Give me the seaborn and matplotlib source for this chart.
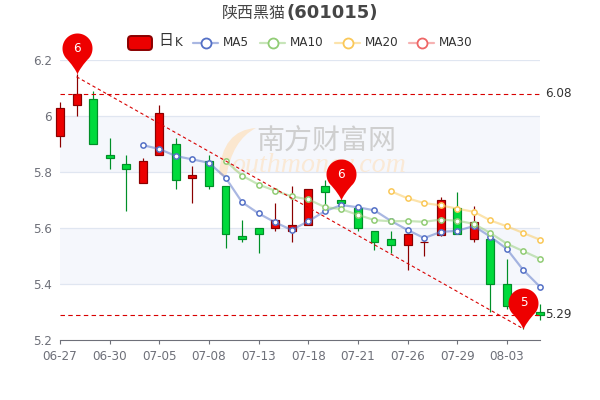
import numpy as np
import pandas as pd
import matplotlib
matplotlib.use('Agg')
import matplotlib.pyplot as plt
import seaborn as sns
from matplotlib.lines import Line2D
from matplotlib.patches import FancyBboxPatch, PathPatch
from matplotlib.path import Path
from matplotlib.transforms import Affine2D

dates = ['06-27', '06-28', '06-29', '06-30', '07-01', '07-04', '07-05', '07-06', '07-07', '07-08',
         '07-11', '07-12', '07-13', '07-14', '07-15', '07-18', '07-19', '07-20', '07-21', '07-22',
         '07-25', '07-26', '07-27', '07-28', '07-29', '08-01', '08-02', '08-03', '08-04', '08-05']
opens = [5.93, 6.04, 6.06, 5.86, 5.83, 5.76, 5.86, 5.90, 5.78, 5.84,
         5.75, 5.57, 5.60, 5.60, 5.59, 5.61, 5.75, 5.70, 5.67, 5.59,
         5.56, 5.54, 5.55, 5.575, 5.67, 5.56, 5.56, 5.40, 5.32, 5.30]
closes = [6.03, 6.08, 5.90, 5.85, 5.81, 5.84, 6.01, 5.77, 5.79, 5.75,
          5.58, 5.56, 5.58, 5.63, 5.61, 5.74, 5.73, 5.69, 5.60, 5.55,
          5.54, 5.58, 5.55, 5.70, 5.58, 5.62, 5.40, 5.32, 5.28, 5.29]
highs = [6.05, 6.15, 6.09, 5.92, 5.86, 5.85, 6.04, 5.92, 5.82, 5.86,
         5.75, 5.63, 5.60, 5.69, 5.75, 5.74, 5.77, 5.70, 5.68, 5.59,
         5.59, 5.58, 5.56, 5.71, 5.73, 5.68, 5.56, 5.49, 5.33, 5.33]
lows = [5.89, 6.00, 5.90, 5.81, 5.66, 5.76, 5.86, 5.74, 5.69, 5.74,
        5.53, 5.55, 5.51, 5.59, 5.55, 5.61, 5.68, 5.69, 5.59, 5.52,
        5.51, 5.45, 5.50, 5.57, 5.58, 5.55, 5.30, 5.31, 5.24, 5.27]

ma5 = [None] * 5 + [5.896, 5.882, 5.857, 5.845, 5.833, 5.78, 5.692, 5.652, 5.62, 5.593, 5.624, 5.66,
                    5.682, 5.674, 5.663, 5.625, 5.593, 5.564, 5.586, 5.59, 5.607, 5.569, 5.525, 5.449, 5.39]
ma10 = [None] * 10 + [5.84, 5.787, 5.755, 5.733, 5.713, 5.702, 5.675, 5.667, 5.647, 5.628,
                      5.624, 5.625, 5.622, 5.63, 5.626, 5.615, 5.582, 5.544, 5.517, 5.49]
ma20 = [None] * 20 + [5.731, 5.706, 5.689, 5.681, 5.669, 5.658, 5.627, 5.606, 5.582, 5.558]

pin_days = [1, 17, 28]
pin_prices = [6.15, 5.70, 5.24]
pin_labels = ['6', '6', '5']
trend_days = [1, 28]
trend_prices = [6.14, 5.24]
level_hi = 6.08
level_lo = 5.29

RED, RED_DARK = '#ec0000', '#8a0000'
GREEN, GREEN_DARK = '#00da3c', '#008f28'
PX = 0.72  # points per pixel at dpi 100

sns.set_theme(style='white')
plt.rcParams['font.family'] = ['DejaVu Sans', 'Noto Sans CJK SC']

fig = plt.figure(figsize=(6, 4), dpi=100)
ax = fig.add_axes([60 / 600, 60 / 400, 480 / 600, 280 / 400])
# pixel coordinates of the 600x400 picture, y going down
pix = Affine2D().scale(1 / 600, -1 / 400).translate(0, 1) + fig.transFigure

df = pd.DataFrame({'day': range(len(dates)), 'open': opens, 'close': closes, 'high': highs, 'low': lows})
df['up'] = df['close'] >= df['open']

# background bands and grid
for lo, hi in [(5.8, 6.0), (5.4, 5.6)]:
    ax.axhspan(lo, hi, color='#f5f7fc', lw=0, zorder=0)
for v in np.arange(5.4, 6.3, 0.2):
    ax.axhline(v, color='#e0e6f1', lw=0.9, zorder=1)

# watermark
swoosh = Path([(256, 128), (222, 130), (219, 174), (226, 178), (232, 140), (256, 128)],
              [Path.MOVETO, Path.CURVE3, Path.CURVE3, Path.LINETO, Path.CURVE3, Path.CURVE3])
ax.add_patch(PathPatch(swoosh, transform=pix, fc='#fbe7cf', ec='none', zorder=1.1, clip_on=False))
ax.text(326, 141, '南方财富网', transform=pix, family='Noto Sans CJK SC', weight='medium', size=28 * PX,
        color='#cfcfcf', ha='center', va='center', zorder=1.2)
ax.text(319, 165, 'outhmoney.com', transform=pix, family='Liberation Serif', style='italic', size=28 * PX,
        color='#fae9d6', ha='center', va='center', zorder=1.2)

# candles
for _, row in df.iterrows():
    body, edge = (RED, RED_DARK) if row['up'] else (GREEN, GREEN_DARK)
    ax.vlines(row['day'], row['low'], row['high'], color=edge, lw=1.2 * PX, zorder=2, clip_on=False)
    ax.bar(row['day'], abs(row['close'] - row['open']), bottom=min(row['open'], row['close']), width=0.48,
           color=body, edgecolor=edge, linewidth=1.2 * PX, zorder=2.1, clip_on=False)

# moving averages
ma_series = [('MA5', ma5, '#5470c6'), ('MA10', ma10, '#91cc75'), ('MA20', ma20, '#fac858')]
for name, values, colour in ma_series:
    ma = pd.DataFrame({'day': df['day'], 'value': pd.to_numeric(pd.Series(values), errors='coerce')}).dropna()
    sns.lineplot(data=ma, x='day', y='value', ax=ax, color=matplotlib.colors.to_rgba(colour, 0.5), lw=2 * PX * 1.1,
                 marker='o', ms=3.8, mfc='white', mec=colour, mew=1.1, errorbar=None, estimator=None,
                 zorder=3, clip_on=False)

# mark lines
for level in (level_hi, level_lo):
    ax.axhline(level, color='#d80000', lw=0.8, ls=(0, (4, 3)), zorder=3.2)
    ax.annotate(f'{level:.2f}', (29, level), xytext=(5 * PX, 0), textcoords='offset points',
                color='#333333', size=12 * PX, va='center', annotation_clip=False)
ax.plot(trend_days, trend_prices, color='#d80000', lw=0.8, ls=(0, (3, 2.5)), zorder=3.3, clip_on=False)

# pins
ang = np.radians(np.linspace(-48, 228, 60))
tx = [15 * np.cos(a) for a in ang]
ty = [26 + 15 * np.sin(a) for a in ang]
pin_shape = Path(np.column_stack([tx + [-6, -2.5, -0.8, 0, 0.8, 2.5, 6], ty + [10, 5, 2, 0, 2, 5, 10]]), closed=False)
ax.plot(pin_days, pin_prices, ls='none', marker=pin_shape, ms=2 * 41 * PX, mfc='#ee0000', mec='none', zorder=4,
        clip_on=False)
for d, p, lab in zip(pin_days, pin_prices, pin_labels):
    ax.annotate(lab, (d, p), xytext=(0, 26 * PX), textcoords='offset points', color='white', size=12 * PX,
                ha='center', va='center', zorder=5, annotation_clip=False)

# axes
ax.set_xlim(0, 29)
ax.set_ylim(5.2, 6.2)
ax.set_xlabel('')
ax.set_ylabel('')
ax.set_xticks(range(0, 30, 3), [dates[i] for i in range(0, 30, 3)])
ax.set_yticks([5.2, 5.4, 5.6, 5.8, 6.0, 6.2], ['5.2', '5.4', '5.6', '5.8', '6', '6.2'])
ax.tick_params(axis='x', length=4 * PX, width=0.8, color='#6e7079', labelcolor='#6e7079', labelsize=12 * PX,
               pad=6 * PX, bottom=True)
ax.tick_params(axis='y', length=0, labelcolor='#6e7079', labelsize=12 * PX, pad=8 * PX)
sns.despine(ax=ax, left=True, top=True, right=True)
ax.spines['bottom'].set_color('#6e7079')
ax.spines['bottom'].set_linewidth(0.8)

# title
fig.text(286, 13, '陕西黑猫', transform=pix, family='Noto Sans CJK SC', weight='light', size=16 * PX,
         color='#464646', ha='right', va='center')
fig.text(286, 13, '(601015)', transform=pix, family='DejaVu Sans', weight='bold', size=18 * PX,
         color='#464646', ha='left', va='center')

# legend
fig.add_artist(FancyBboxPatch((128, 36), 24, 14, boxstyle='round,pad=0,rounding_size=3.5', transform=pix,
                              fc=RED, ec=RED_DARK, lw=1.4))
fig.text(158.5, 41, '日', transform=pix, family='Noto Sans CJK SC', weight='light', size=15 * PX, color='#333333',
         va='center')
fig.text(175, 42.5, 'K', transform=pix, size=12 * PX, color='#333333', va='center')
legend_items = [('MA5', '#5470c6', 193), ('MA10', '#91cc75', 260), ('MA20', '#fac858', 335), ('MA30', '#ee6666', 409)]
for name, colour, x0 in legend_items:
    fig.add_artist(Line2D([x0, x0 + 25], [42.5, 42.5], transform=pix, color=colour, alpha=0.5, lw=2 * PX * 1.1))
    fig.add_artist(Line2D([x0 + 12.5], [42.5], transform=pix, ls='none', marker='o', ms=7.2, mfc='white', mec=colour,
                          mew=1.3))
    fig.text(x0 + 30, 42.5, name, transform=pix, size=12 * PX, color='#333333', va='center')

fig.savefig('out.png', dpi=100, facecolor='white')
